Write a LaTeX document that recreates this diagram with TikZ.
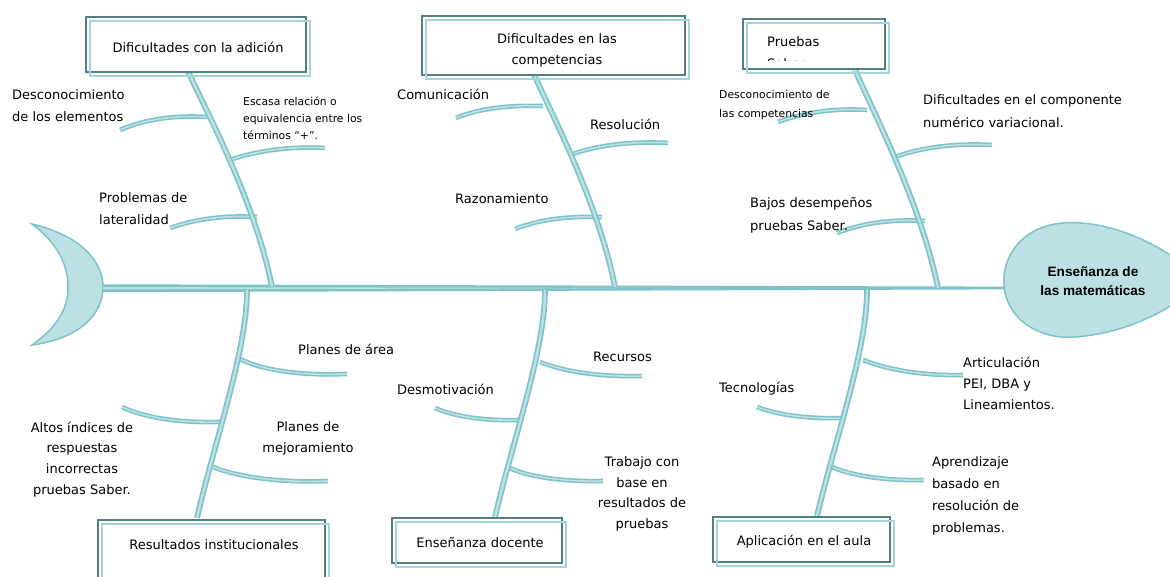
\documentclass[tikz,border=0pt]{standalone}
\usepackage{fontspec}
\setmainfont{DejaVu Sans}
\newfontfamily\headfont{Liberation Sans}
\definecolor{fishteal}{HTML}{7EC3C9}
\definecolor{fishlight}{HTML}{BCE0E3}
\definecolor{boxdark}{HTML}{557E82}
\definecolor{boxlight}{HTML}{A3D5D9}
\begin{document}
\begin{tikzpicture}[x=1pt,y=-1pt,
  bone/.style={draw=fishteal, line width=1.7pt, double=fishlight, double distance=2.4pt},
  rib/.style={draw=fishteal, line width=1.5pt, double=fishlight, double distance=1.6pt},
  lab/.style={font=\fontsize{13}{21.5}\selectfont, inner sep=0pt, align=left, anchor=north west},
  labc/.style={font=\fontsize{13}{20.7}\selectfont, inner sep=0pt, align=center, anchor=north},
  smalllab/.style={font=\fontsize{10.8}{17}\selectfont, inner sep=0pt, align=left, anchor=north west},
  fishbox/.style={draw=boxdark, line width=2pt, fill=white, inner sep=0pt, outer sep=0pt},
  boxshade/.style={draw=boxlight, line width=2.4pt},
  boxtext/.style={font=\fontsize{13}{21}\selectfont, inner sep=0pt, align=center},
  headtext/.style={font=\headfont\bfseries\fontsize{13.6}{19}\selectfont, inner sep=0pt, align=center}
]
\clip (0,0) rectangle (1170,577);
\fill[white] (0,0) rectangle (1170,577);

% tail (moon)
\filldraw[fill=fishlight, draw=fishteal, line width=1.5pt]
  (32,224) .. controls (82,236) and (103,262) .. (103,287)
  .. controls (103,313) and (82,338) .. (32,345)
  .. controls (56,328) and (68,310) .. (68,287)
  .. controls (68,263) and (56,242) .. (32,224) -- cycle;
\coordinate (tail) at (103,288);

% head (egg)
\filldraw[fill=fishlight, draw=fishteal, line width=1.5pt]
  (1180,262) .. controls (1140,232) and (1090,218) .. (1055,224)
  .. controls (1020,230) and (1002,258) .. (1004,285)
  .. controls (1006,318) and (1038,340) .. (1075,337)
  .. controls (1115,334) and (1150,320) .. (1180,300) -- cycle;
\node[headtext] (head) at (1093,281.5) {Enseñanza de\\las matemáticas};

% spine
\fill[fishteal] (103,284.3) -- (1005,286.6) -- (1005,289.4) -- (103,292.2) -- cycle;
\fill[fishlight] (103,287.1) -- (720,288) -- (103,289.4) -- cycle;

% joints on spine
\coordinate (j1) at (272,287);
\coordinate (j2) at (615,287);
\coordinate (j3) at (938,288);
\coordinate (j4) at (247,290);
\coordinate (j5) at (545,290);
\coordinate (j6) at (867,290);
% bone ends at boxes
\coordinate (s1) at (188,71);
\coordinate (s2) at (532,70);
\coordinate (s3) at (855,70);
\coordinate (s4) at (197,518);
\coordinate (s5) at (495,517);
\coordinate (s6) at (817,516);

% ribs: top-left
\coordinate (a11) at (208,117); \coordinate (e11) at (120,130);
\coordinate (a12) at (230,160); \coordinate (e12) at (325,148);
\coordinate (a13) at (257,217); \coordinate (e13) at (170,228);
\draw[rib] (e11) .. controls (145,119) and (175,115) .. (a11);
\draw[rib] (a12) .. controls (255,151) and (290,146) .. (e12);
\draw[rib] (e13) .. controls (195,219) and (225,215) .. (a13);
% ribs: top-middle
\coordinate (a21) at (543,106); \coordinate (e21) at (456,118);
\coordinate (a22) at (573,154); \coordinate (e22) at (668,143);
\coordinate (a23) at (602,217); \coordinate (e23) at (515,229);
\draw[rib] (e21) .. controls (480,108) and (510,105) .. (a21);
\draw[rib] (a22) .. controls (598,145) and (633,141) .. (e22);
\draw[rib] (e23) .. controls (540,219) and (570,216) .. (a23);
% ribs: top-right
\coordinate (a31) at (867,110); \coordinate (e31) at (778,122);
\coordinate (a32) at (895,157); \coordinate (e32) at (992,145);
\coordinate (a33) at (925,221); \coordinate (e33) at (837,233);
\draw[rib] (e31) .. controls (805,112) and (835,108) .. (a31);
\draw[rib] (a32) .. controls (922,147) and (957,143) .. (e32);
\draw[rib] (e33) .. controls (862,223) and (892,219) .. (a33);
% ribs: bottom-left
\coordinate (a41) at (240,359); \coordinate (e41) at (347,374);
\coordinate (a42) at (220,422); \coordinate (e42) at (122,407);
\coordinate (a43) at (213,467); \coordinate (e43) at (328,481);
\draw[rib] (a41) .. controls (262,370) and (300,376) .. (e41);
\draw[rib] (e42) .. controls (145,418) and (180,423) .. (a42);
\draw[rib] (a43) .. controls (238,477) and (280,483) .. (e43);
% ribs: bottom-middle
\coordinate (a51) at (540,362); \coordinate (e51) at (642,376);
\coordinate (a52) at (522,420); \coordinate (e52) at (435,408);
\coordinate (a53) at (510,468); \coordinate (e53) at (603,481);
\draw[rib] (a51) .. controls (565,372) and (600,377) .. (e51);
\draw[rib] (e52) .. controls (458,418) and (490,421) .. (a52);
\draw[rib] (a53) .. controls (528,477) and (565,482) .. (e53);
% ribs: bottom-right
\coordinate (a61) at (863,360); \coordinate (e61) at (963,375);
\coordinate (a62) at (845,418); \coordinate (e62) at (757,407);
\coordinate (a63) at (830,466); \coordinate (e63) at (924,480);
\draw[rib] (a61) .. controls (888,370) and (925,376) .. (e61);
\draw[rib] (e62) .. controls (780,416) and (812,419) .. (a62);
\draw[rib] (a63) .. controls (850,476) and (888,481) .. (e63);

% main bones
\draw[bone] (s1) .. controls (203,105) and (255,200) .. (j1);
\draw[bone] (s2) .. controls (547,105) and (598,200) .. (j2);
\draw[bone] (s3) .. controls (870,105) and (921,203) .. (j3);
\draw[bone] (j4) .. controls (247,350) and (215,440) .. (s4);
\draw[bone] (j5) .. controls (545,350) and (513,440) .. (s5);
\draw[bone] (j6) .. controls (867,350) and (835,440) .. (s6);

% boxes
\node[fishbox, minimum width=220pt, minimum height=55pt] (b1) at (196,44.5) {};
\draw[boxshade] ([shift={(4,4)}]b1.north west) rectangle ([shift={(4,4)}]b1.south east);
\node[boxtext] (t1) at (198,47) {Dificultades con la adición};

\node[fishbox, minimum width=263pt, minimum height=59pt] (b2) at (553.5,45.5) {};
\draw[boxshade] ([shift={(4,4)}]b2.north west) rectangle ([shift={(4,4)}]b2.south east);
\node[boxtext] (t2) at (557,50.5) {Dificultades en las\\competencias};

\node[fishbox, minimum width=142pt, minimum height=50pt] (b3) at (814,44) {};
\draw[boxshade] ([shift={(4,4)}]b3.north west) rectangle ([shift={(4,4)}]b3.south east);
\begin{scope}
  \clip (745,21) rectangle (883,61);
  \node[lab] (t3) at (767,36.5) {Pruebas\\Saber};
\end{scope}

\node[fishbox, minimum width=227pt, minimum height=70pt] (b4) at (211.5,555) {};
\draw[boxshade] ([shift={(4,4)}]b4.north west) rectangle ([shift={(4,4)}]b4.south east);
\node[boxtext] (t4) at (214,545) {Resultados institucionales};

\node[fishbox, minimum width=170pt, minimum height=45pt] (b5) at (477,540.5) {};
\draw[boxshade] ([shift={(4,4)}]b5.north west) rectangle ([shift={(4,4)}]b5.south east);
\node[boxtext] (t5) at (480,543) {Enseñanza docente};

\node[fishbox, minimum width=177pt, minimum height=45pt] (b6) at (801.5,539.5) {};
\draw[boxshade] ([shift={(4,4)}]b6.north west) rectangle ([shift={(4,4)}]b6.south east);
\node[boxtext] (t6) at (804,542) {Aplicación en el aula};

% labels top-left
\node[lab] (l11) at (12,89.5) {Desconocimiento\\de los elementos};
\node[smalllab] (l12) at (243,96.5) {Escasa relación o\\equivalencia entre los\\términos “+”.};
\node[lab] (l13) at (99,192.5) {Problemas de\\lateralidad};
% labels top-middle
\node[lab] (l21) at (397,88.5) {Comunicación};
\node[lab] (l22) at (590,118.5) {Resolución};
\node[lab] (l23) at (455,193.5) {Razonamiento};
% labels top-right
\node[smalllab, font=\fontsize{10.8}{19}\selectfont] (l31) at (719,90.5) {Desconocimiento de\\las competencias};
\node[lab, font=\fontsize{13}{23}\selectfont] (l32) at (923,94.5) {Dificultades en el componente\\numérico variacional.};
\node[lab, font=\fontsize{13}{23}\selectfont] (l33) at (750,197.5) {Bajos desempeños\\pruebas Saber.};
% labels bottom-left
\node[lab] (l41) at (298,343.5) {Planes de área};
\node[labc] (l42) at (82,421.5) {Altos índices de\\respuestas\\incorrectas\\pruebas Saber.};
\node[labc] (l43) at (308,421.5) {Planes de\\mejoramiento};
% labels bottom-middle
\node[lab] (l51) at (593,351.5) {Recursos};
\node[lab] (l52) at (397,383.5) {Desmotivación};
\node[labc, font=\fontsize{13}{20.5}\selectfont] (l53) at (642,456.5) {Trabajo con\\base en\\resultados de\\pruebas};
% labels bottom-right
\node[lab, font=\fontsize{13}{21}\selectfont] (l61) at (963,356.5) {Articulación\\PEI, DBA y\\Lineamientos.};
\node[lab] (l62) at (719,381.5) {Tecnologías};
\node[lab, font=\fontsize{13}{22}\selectfont] (l63) at (932,456.5) {Aprendizaje\\basado en\\resolución de\\problemas.};
\end{tikzpicture}
\end{document}
